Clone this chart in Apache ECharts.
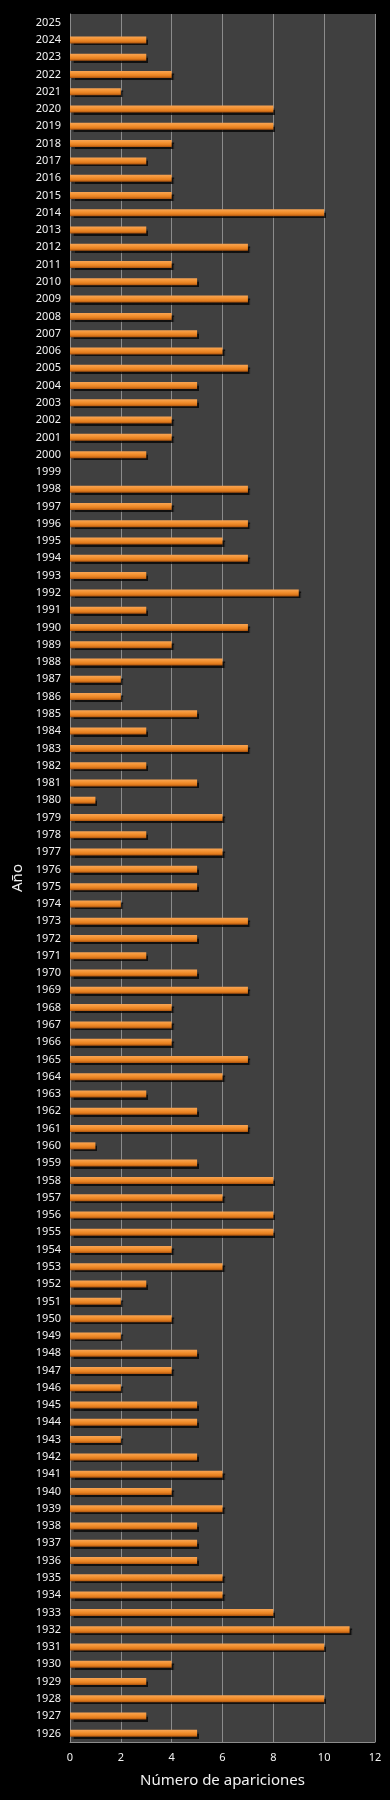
<!DOCTYPE html>
<html>
<head>
<meta charset="utf-8">
<script src="https://cdn.jsdelivr.net/npm/echarts@6/dist/echarts.min.js"></script>
<style>
html,body{margin:0;padding:0;background:#000;}
#chart{width:390px;height:1800px;}
</style>
</head>
<body>
<div id="chart"></div>
<script>
var years = [];
for (var y = 1926; y <= 2025; y++) years.push(String(y));
// values listed from 1926 up to 2025
var apariciones = [
  5, 3, 10, 3, 4, 10, 11, 8, 6, 6,   // 1926-1935
  5, 5, 5, 6, 4, 6, 5, 2, 5, 5,      // 1936-1945
  2, 4, 5, 2, 4, 2, 3, 6, 4, 8,      // 1946-1955
  8, 6, 8, 5, 1, 7, 5, 3, 6, 7,      // 1956-1965
  4, 4, 4, 7, 5, 3, 5, 7, 2, 5,      // 1966-1975
  5, 6, 3, 6, 1, 5, 3, 7, 3, 5,      // 1976-1985
  2, 2, 6, 4, 7, 3, 9, 3, 7, 6,      // 1986-1995
  7, 4, 7, 0, 3, 4, 4, 5, 5, 7,      // 1996-2005
  6, 5, 4, 7, 5, 4, 7, 3, 10, 4,     // 2006-2015
  4, 3, 4, 8, 8, 2, 4, 3, 3, 0       // 2016-2025
];
var xTicks = [0, 12, 2];
var xTitle = 'Número de apariciones';
var yTitle = 'Año';

var chart = echarts.init(document.getElementById('chart'), null, {renderer: 'canvas'});
chart.setOption({
  backgroundColor: '#000000',
  animation: false,
  textStyle: {fontFamily: 'Noto Sans, sans-serif'},
  grid: {
    left: 70, right: 15, top: 14, bottom: 58,
    show: true, backgroundColor: '#404040', borderWidth: 0
  },
  xAxis: {
    type: 'value',
    min: xTicks[0], max: xTicks[1], interval: xTicks[2],
    name: xTitle,
    nameLocation: 'middle',
    nameGap: 31,
    nameTextStyle: {color: '#f2f2f2', fontSize: 15},
    axisLine: {show: true, lineStyle: {color: '#8c8c8c', width: 1}},
    axisTick: {show: false},
    axisLabel: {color: '#f2f2f2', fontSize: 11, margin: 10},
    splitLine: {show: true, lineStyle: {color: '#8c8c8c', width: 1}}
  },
  yAxis: {
    type: 'category',
    data: years,
    name: yTitle,
    nameLocation: 'middle',
    nameRotate: 90,
    nameGap: 44,
    nameTextStyle: {color: '#f2f2f2', fontSize: 15},
    axisLine: {show: true, lineStyle: {color: '#8c8c8c', width: 1}},
    axisTick: {show: false},
    axisLabel: {color: '#f2f2f2', fontSize: 11, interval: 0, margin: 9},
    splitLine: {show: false}
  },
  series: [{
    type: 'bar',
    data: apariciones,
    barWidth: 7,
    itemStyle: {
      color: new echarts.graphic.LinearGradient(0, 0, 0, 1, [
        {offset: 0, color: '#f6a455'},
        {offset: 0.35, color: '#f59434'},
        {offset: 0.7, color: '#e57e1e'},
        {offset: 1, color: '#a8520f'}
      ]),
      shadowColor: 'rgba(0,0,0,0.75)',
      shadowOffsetX: 2,
      shadowOffsetY: 2,
      shadowBlur: 1
    },
    emphasis: {disabled: true}
  }]
});
</script>
</body>
</html>
